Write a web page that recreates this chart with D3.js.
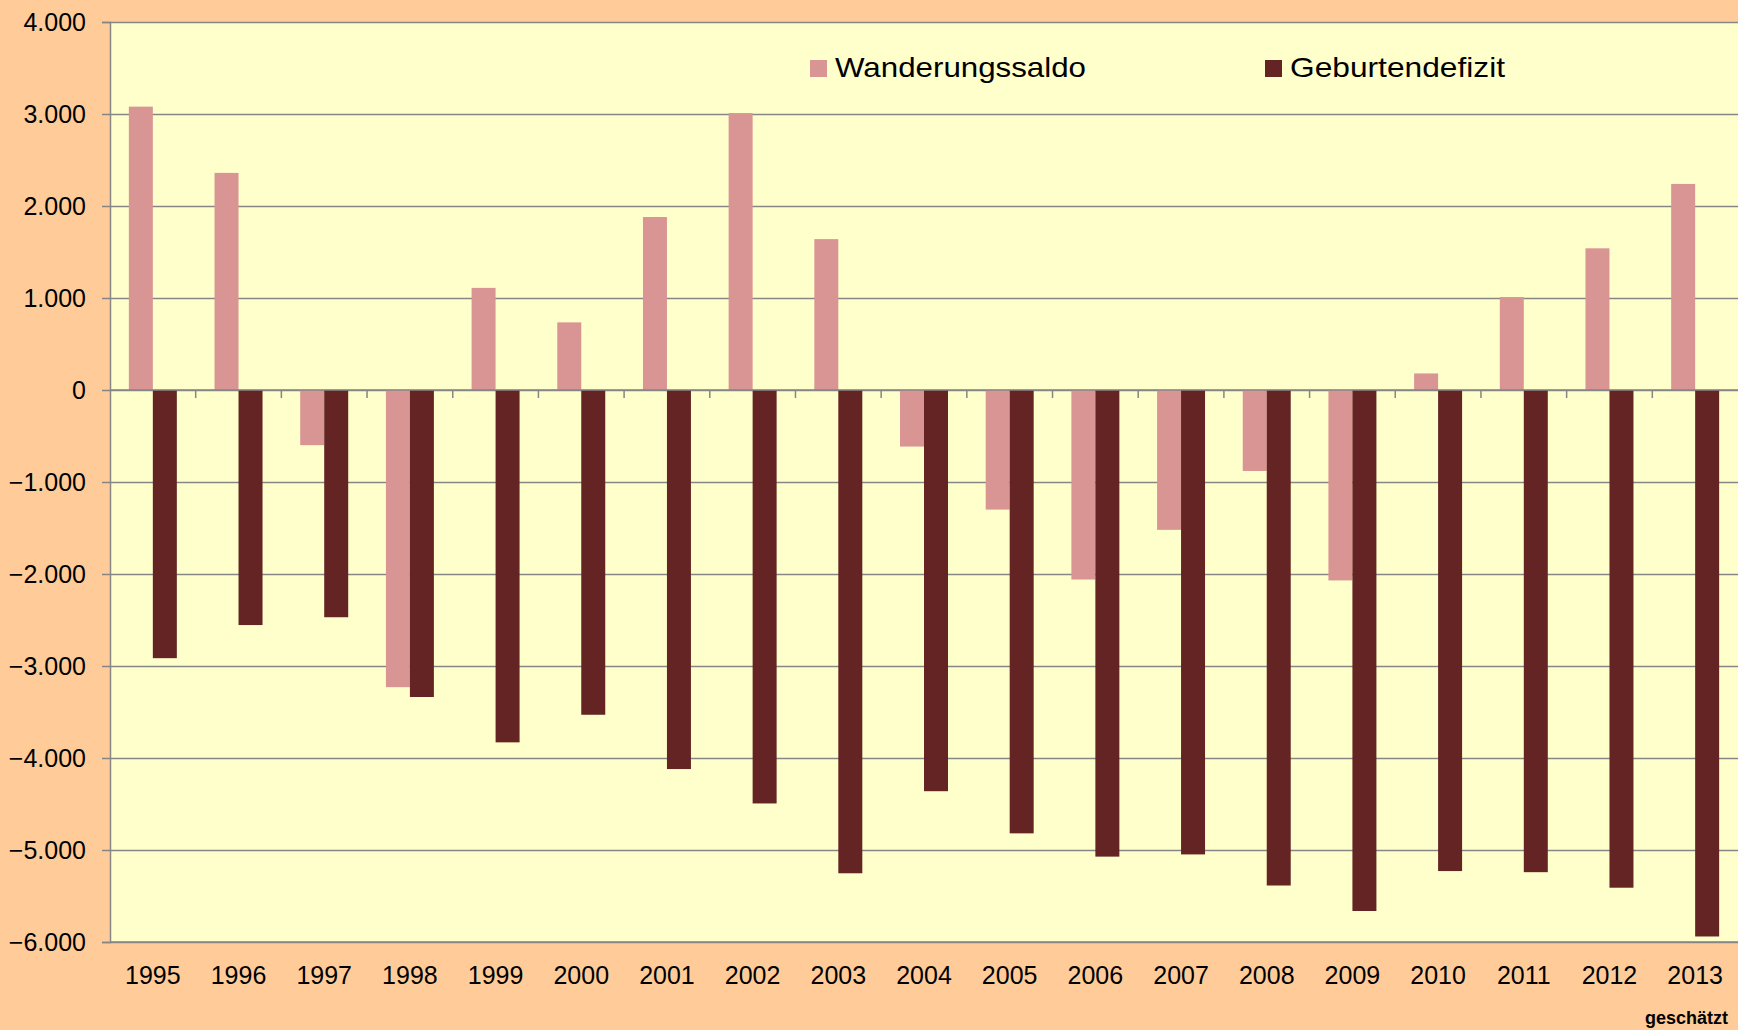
<!DOCTYPE html>
<html>
<head>
<meta charset="utf-8">
<script src="https://cdn.jsdelivr.net/npm/d3@7"></script>
<style>
  html, body { margin: 0; padding: 0; background: #FFCC99; }
  svg { display: block; }
  text { font-family: "Liberation Sans", Arial, sans-serif; fill: #000; }
</style>
</head>
<body>
<div id="chart"></div>
<script>
// Wanderungssaldo vs. Geburtendefizit, 1995–2013
const years = ["1995", "1996", "1997", "1998", "1999", "2000", "2001", "2002", "2003", "2004",
  "2005", "2006", "2007", "2008", "2009", "2010", "2011", "2012", "2013"];
const wanderungssaldo = [3080, 2360, -600, -3230, 1110, 735, 1880, 3010, 1640, -615,
  -1300, -2060, -1520, -880, -2070, 180, 1010, 1540, 2240];
const geburtendefizit = [-2915, -2555, -2470, -3337, -3830, -3530, -4120, -4494, -5253, -4361,
  -4819, -5072, -5048, -5386, -5663, -5229, -5241, -5410, -5940];
const seriesNames = ["Wanderungssaldo", "Geburtendefizit"];
const seriesColors = ["#D99594", "#632423"];
const yTicks = [4000, 3000, 2000, 1000, 0, -1000, -2000, -3000, -4000, -5000, -6000];

const W = 1738, H = 1030;
const margin = { top: 22, right: 0, bottom: 88, left: 110 };
const w = W - margin.left - margin.right;
const h = H - margin.top - margin.bottom;

const svg = d3.select("#chart").append("svg")
  .attr("width", W).attr("height", H);

svg.append("rect").attr("width", W).attr("height", H).attr("fill", "#FFCC99");

const g = svg.append("g").attr("transform", `translate(${margin.left},${margin.top})`);

// plot area
g.append("rect").attr("width", w).attr("height", h).attr("fill", "#FFFFCC");

const x = d3.scaleBand().domain(years).range([0, w]).paddingInner(0.44).paddingOuter(0.22);
const x1 = d3.scaleBand().domain(seriesNames).range([0, x.bandwidth()]);
const y = d3.scaleLinear().domain([-6000, 4000]).range([h, 0]);
const fmt = v => d3.format(",")(v).replace(/,/g, ".");

// gridlines
g.append("g")
  .call(d3.axisLeft(y).tickValues(yTicks).tickSize(-w).tickFormat(""))
  .call(a => a.select(".domain").remove())
  .selectAll("line").attr("stroke", "#868686").attr("stroke-width", 1.5);

// y axis
g.append("g")
  .call(d3.axisLeft(y).tickValues(yTicks).tickSize(8).tickPadding(16).tickFormat(fmt))
  .call(a => a.select(".domain").attr("stroke", "#868686").attr("stroke-width", 1.5))
  .call(a => a.selectAll("line").attr("stroke", "#868686").attr("stroke-width", 1.5))
  .selectAll("text").attr("font-size", 25).attr("font-family", "Liberation Sans, Arial, sans-serif");

// bars
const series = [wanderungssaldo, geburtendefizit];
series.forEach((vals, si) => {
  g.append("g").selectAll("rect")
    .data(years.map((yr, i) => ({ yr, v: vals[i] })))
    .join("rect")
    .attr("x", d => x(d.yr) + x1(seriesNames[si]))
    .attr("width", x1.bandwidth())
    .attr("y", d => y(Math.max(0, d.v)))
    .attr("height", d => Math.abs(y(d.v) - y(0)))
    .attr("fill", seriesColors[si]);
});

// zero axis with category ticks
const half = (x.step() - x.bandwidth()) / 2;
g.append("line")
  .attr("x1", 0).attr("x2", w).attr("y1", y(0)).attr("y2", y(0))
  .attr("stroke", "#868686").attr("stroke-width", 1.5);
g.append("g").selectAll("line")
  .data(years.slice(1))
  .join("line")
  .attr("x1", d => x(d) - half)
  .attr("x2", d => x(d) - half)
  .attr("y1", y(0)).attr("y2", y(0) + 8)
  .attr("stroke", "#868686").attr("stroke-width", 1.5);

// bottom border
g.append("line")
  .attr("x1", 0).attr("x2", w).attr("y1", h).attr("y2", h)
  .attr("stroke", "#868686").attr("stroke-width", 1.5);

// category labels
g.append("g").selectAll("text")
  .data(years)
  .join("text")
  .attr("x", d => x(d) + x.bandwidth() / 2)
  .attr("y", h + 42)
  .attr("text-anchor", "middle")
  .attr("font-size", 25)
  .text(d => d);

// legend
const legendX = [810, 1265];
const legendLen = [251, 215];
seriesNames.forEach((name, i) => {
  const lg = svg.append("g").attr("transform", `translate(${legendX[i]},0)`);
  lg.append("rect").attr("x", 0).attr("y", 60).attr("width", 17).attr("height", 17)
    .attr("fill", seriesColors[i]);
  lg.append("text").attr("x", 25).attr("y", 77).attr("font-size", 28)
    .attr("textLength", legendLen[i]).attr("lengthAdjust", "spacingAndGlyphs")
    .text(name);
});

// note
svg.append("text")
  .attr("x", 1728).attr("y", 1024)
  .attr("text-anchor", "end")
  .attr("font-size", 18).attr("font-weight", "bold")
  .text("geschätzt");
</script>
</body>
</html>
